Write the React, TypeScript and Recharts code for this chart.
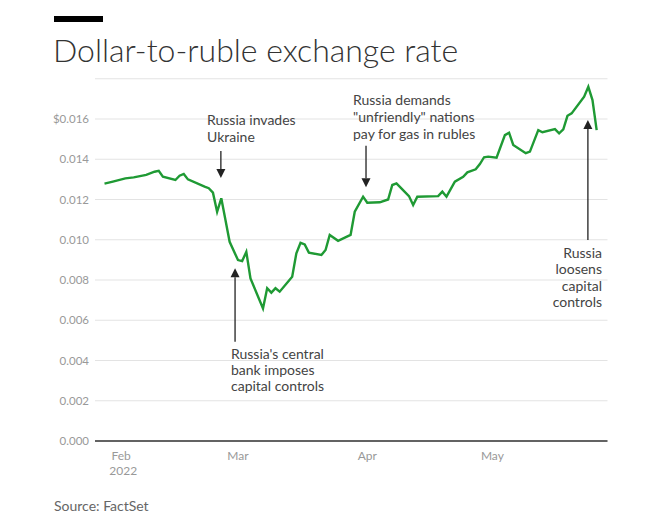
import React from 'react';
import { LineChart, Line, XAxis, YAxis, CartesianGrid, ReferenceLine } from 'recharts';

const DATES = [
  '2022-01-28', '2022-01-30', '2022-02-02', '2022-02-04', '2022-02-07', '2022-02-09', '2022-02-10',
  '2022-02-11', '2022-02-14', '2022-02-15', '2022-02-16', '2022-02-17', '2022-02-21', '2022-02-22',
  '2022-02-23', '2022-02-24', '2022-02-25', '2022-02-26', '2022-02-27', '2022-03-01', '2022-03-02',
  '2022-03-03', '2022-03-04', '2022-03-07', '2022-03-08', '2022-03-09', '2022-03-10', '2022-03-11',
  '2022-03-14', '2022-03-15', '2022-03-16', '2022-03-17', '2022-03-18', '2022-03-21', '2022-03-22',
  '2022-03-23', '2022-03-25', '2022-03-28', '2022-03-29', '2022-03-31', '2022-04-01', '2022-04-04',
  '2022-04-06', '2022-04-07', '2022-04-08', '2022-04-09', '2022-04-11', '2022-04-12', '2022-04-13',
  '2022-04-18', '2022-04-19', '2022-04-20', '2022-04-22', '2022-04-24', '2022-04-25', '2022-04-27',
  '2022-04-28', '2022-04-29', '2022-04-30', '2022-05-02', '2022-05-04', '2022-05-05', '2022-05-06',
  '2022-05-09', '2022-05-10', '2022-05-12', '2022-05-13', '2022-05-16', '2022-05-17', '2022-05-18',
  '2022-05-19', '2022-05-20', '2022-05-23', '2022-05-24', '2022-05-25', '2022-05-26',
];

const RATES = [
  0.01279, 0.01289, 0.01305, 0.0131, 0.01322, 0.01338, 0.01342,
  0.01313, 0.01297, 0.01318, 0.01327, 0.013, 0.01264, 0.01256,
  0.01234, 0.01139, 0.01206, 0.01098, 0.0099, 0.00899, 0.00894,
  0.0094, 0.00808, 0.00659, 0.00759, 0.00737, 0.00759, 0.00742,
  0.00816, 0.00933, 0.00985, 0.00977, 0.00936, 0.00924, 0.00949,
  0.01024, 0.00995, 0.01024, 0.01139, 0.01214, 0.01184, 0.01186,
  0.012, 0.01272, 0.0128, 0.01259, 0.01217, 0.01173, 0.01214,
  0.01217, 0.01239, 0.01214, 0.01289, 0.01313, 0.01335, 0.0135,
  0.01376, 0.0141, 0.01413, 0.01408, 0.0152, 0.01532, 0.01471,
  0.0143, 0.01438, 0.01545, 0.01534, 0.0155, 0.01529, 0.01549,
  0.01616, 0.01628, 0.01711, 0.0176, 0.01694, 0.01545,
];

const X_TICK_DATES = ['2022-02-01', '2022-03-01', '2022-04-01', '2022-05-01'];
const X_TICK_LABELS = ['Feb', 'Mar', 'Apr', 'May'];
const Y_TICKS = [0, 0.002, 0.004, 0.006, 0.008, 0.01, 0.012, 0.014, 0.016];

// annotation arrows: date, tail value, tip value
const ARROW_DATES = ['2022-02-24', '2022-02-28', '2022-03-31', '2022-05-24'];
const ARROW_DAY_SHIFT = [0.9, 0.3, 0.7, -0.1];
const ARROW_TAILS = [0.01441, 0.00493, 0.01467, 0.00999];
const ARROW_TIPS = [0.01307, 0.00858, 0.01261, 0.01595];

const DAY = 86400000;
const toTs = (s: string) => Date.parse(s + 'T00:00:00Z');

const data = DATES.map((d, i) => ({ t: toTs(d), v: RATES[i] }));
const xTicks = X_TICK_DATES.map(toTs);
const febTs = toTs('2022-02-01');
const xDomain = [febTs - 6.28 * DAY, febTs + 116.6 * DAY];

const FONT = 'Lato, "Open Sans", sans-serif';

const XTick = (props: any) => {
  const { x, y, payload } = props;
  const idx = xTicks.indexOf(payload.value);
  const label = X_TICK_LABELS[idx] ?? '';
  return (
    <g>
      <text x={x} y={y + 11} textAnchor="middle" fill="#999" fontSize={12} fontFamily={FONT}>
        {label}
      </text>
      {idx === 0 && (
        <text x={x + 2} y={y + 26} textAnchor="middle" fill="#999" fontSize={12} fontFamily={FONT}>
          2022
        </text>
      )}
    </g>
  );
};

const YTick = (props: any) => {
  const { x, y, payload } = props;
  const v = payload.value as number;
  const label = (v === 0.016 ? '$' : '') + v.toFixed(3);
  return (
    <text x={x} y={y + 4} textAnchor="end" fill="#999" fontSize={11.5} fontFamily={FONT}>
      {label}
    </text>
  );
};

const Arrow = (props: any) => {
  const { x1, y1, x2, y2 } = props;
  const dir = y2 > y1 ? 1 : -1;
  const h = 9;
  const w = 4.5;
  return (
    <g>
      <line x1={x1} y1={y1} x2={x2} y2={y2 - dir * h} stroke="#222" strokeWidth={1.3} />
      <polygon
        points={`${x2},${y2} ${x2 - w},${y2 - dir * h} ${x2 + w},${y2 - dir * h}`}
        fill="#222"
      />
    </g>
  );
};

const textStyle: React.CSSProperties = {
  position: 'absolute',
  fontFamily: FONT,
  fontSize: 14,
  color: '#444',
  lineHeight: '16.7px',
  whiteSpace: 'nowrap',
};

export default function App() {
  return (
    <div
      style={{
        position: 'absolute',
        left: 0,
        top: 0,
        width: 655,
        height: 525,
        background: '#fff',
        overflow: 'hidden',
      }}
    >
      <div style={{ position: 'absolute', left: 54, top: 16, width: 49, height: 6, background: '#000' }} />
      <div
        style={{
          position: 'absolute',
          left: 53,
          top: 31,
          fontFamily: FONT,
          fontWeight: 300,
          fontSize: 32,
          color: '#333',
          whiteSpace: 'nowrap',
          lineHeight: '38px',
        }}
      >
        Dollar-to-ruble exchange rate
      </div>
      <div style={{ position: 'absolute', left: 0, top: 0 }}>
        <LineChart
          width={655}
          height={525}
          data={data}
          margin={{ top: 78.75, right: 47.5, bottom: 44, left: 35 }}
        >
          <CartesianGrid vertical={false} stroke="#e3e3e3" strokeWidth={1} />
          <XAxis
            dataKey="t"
            type="number"
            domain={xDomain}
            ticks={xTicks}
            tick={<XTick />}
            tickLine={false}
            axisLine={{ stroke: '#333', strokeWidth: 1.5 }}
            height={40}
            allowDataOverflow
            interval={0}
          />
          <YAxis
            type="number"
            domain={[0, 0.018]}
            ticks={Y_TICKS}
            tick={<YTick />}
            tickLine={false}
            axisLine={false}
            width={60}
            tickSize={6}
            tickMargin={0}
            interval={0}
          />
          {ARROW_DATES.map((d, i) => (
            <ReferenceLine
              key={d}
              segment={[
                { x: toTs(d) + ARROW_DAY_SHIFT[i] * DAY, y: ARROW_TAILS[i] },
                { x: toTs(d) + ARROW_DAY_SHIFT[i] * DAY, y: ARROW_TIPS[i] },
              ]}
              ifOverflow="visible"
              shape={Arrow}
            />
          ))}
          <Line
            type="linear"
            dataKey="v"
            stroke="#1f9a34"
            strokeWidth={2.4}
            dot={false}
            activeDot={false}
            isAnimationActive={false}
          />
        </LineChart>
      </div>
      <div style={{ ...textStyle, left: 207, top: 112 }}>
        Russia invades
        <br />
        Ukraine
      </div>
      <div style={{ ...textStyle, left: 353, top: 91, lineHeight: '17px' }}>
        Russia demands
        <br />
        "unfriendly" nations
        <br />
        pay for gas in rubles
      </div>
      <div style={{ ...textStyle, left: 231, top: 345.5, lineHeight: '16.4px' }}>
        Russia's central
        <br />
        bank imposes
        <br />
        capital controls
      </div>
      <div style={{ ...textStyle, right: 53, top: 244.5, textAlign: 'right', lineHeight: '16.6px' }}>
        Russia
        <br />
        loosens
        <br />
        capital
        <br />
        controls
      </div>
      <div
        style={{
          position: 'absolute',
          left: 54,
          top: 497,
          fontFamily: FONT,
          fontSize: 14,
          color: '#666',
          whiteSpace: 'nowrap',
        }}
      >
        Source: FactSet
      </div>
    </div>
  );
}
